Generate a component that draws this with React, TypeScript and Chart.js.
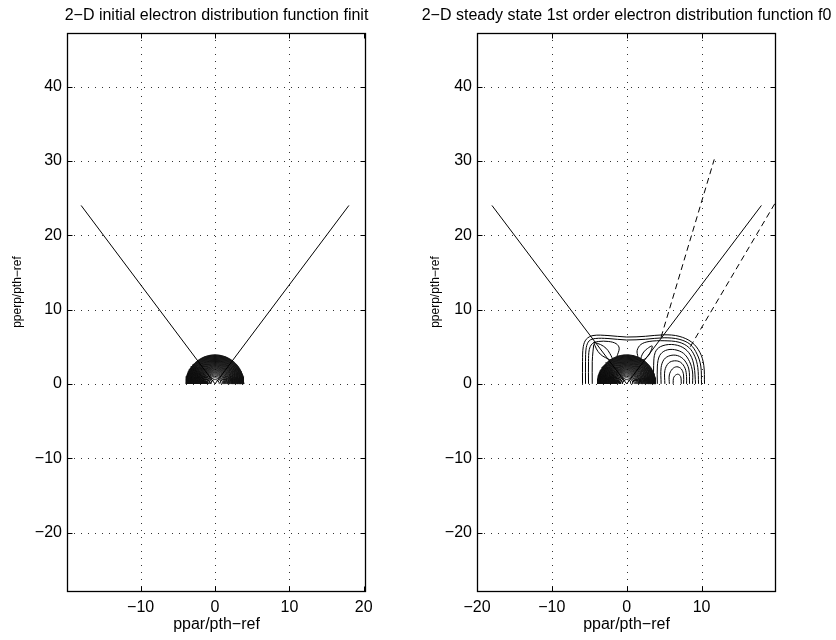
import React, { useEffect, useRef } from 'react';
import { Chart, registerables } from 'chart.js';

Chart.register(...registerables);

const FONT = "'Liberation Sans', Arial, Helvetica, sans-serif";
Chart.defaults.font.family = FONT;
Chart.defaults.color = '#000';

// ---------- text ----------
const leftTitle = '2\u2212D initial electron distribution function finit';
const rightTitle = '2\u2212D steady state 1st order electron distribution function f0';
const xAxisLabel = 'ppar/pth\u2212ref';
const yAxisLabel = 'pperp/pth\u2212ref';

// ---------- axes ----------
const leftXRange = [-19.9, 20.3];
const rightXRange = [-20, 19.95];
const yRange = [-28, 47.2];
const leftXTicks = [-10, 0, 10, 20];
const rightXTicks = [-20, -10, 0, 10];
const yTicks = [-20, -10, 0, 10, 20, 30, 40];

// ---------- data (ppar, pperp) ----------
// resonance cone (solid)
const coneLine: [number, number][] = [[-18, 24], [0, 0], [18, 24]];
// dashed resonance lines (right panel)
const dashedLine1: [number, number][] = [[4.6, 6.3], [11.7, 30.2]];
const dashedLine2: [number, number][] = [[8.5, 5.0], [20.0, 24.6]];

// radii of the Maxwellian contour levels (semicircles)
const contourRadii = [0.581, 0.822, 1.007, 1.163, 1.3, 1.424, 1.538, 1.644, 1.744, 1.838, 1.928, 2.014, 2.096, 2.175, 2.252, 2.325, 2.397, 2.467, 2.534, 2.6, 2.664, 2.727, 2.788, 2.848, 2.907, 2.964, 3.021, 3.076, 3.131, 3.184, 3.237, 3.289, 3.34, 3.39, 3.439, 3.488, 3.536, 3.584, 3.631, 3.677, 3.723, 3.768, 3.812, 3.856, 3.9];

// f0 contour paths
const f0ContourA: [number, number][] = [[-5.9, 0], [-5.9, 3], [-5.8, 5.0], [-5.4, 6.0], [-4.5, 6.5], [-2.5, 6.5], [0, 6.3], [2.5, 6.4], [5, 6.6], [7, 6.4], [8.7, 5.6], [9.8, 4.2], [10.3, 2.5], [10.4, 0]];
const f0ContourB: [number, number][] = [[-5.5, 0], [-5.5, 3], [-5.4, 4.9], [-5.0, 5.8], [-4.2, 6.1], [-2.5, 6.1], [0, 5.9], [2.5, 6.0], [5, 6.2], [7, 6.0], [8.5, 5.3], [9.4, 4.0], [9.9, 2.4], [10.0, 0]];
const f0ContourCLeft: [number, number][] = [[-5.1, 0], [-5.1, 3], [-5.0, 4.6], [-4.6, 5.4], [-3.8, 5.7], [-2.4, 5.7], [-1.4, 5.4], [-1.0, 4.8], [-1.3, 3.7]];
const f0ContourCRight: [number, number][] = [[1.5, 3.6], [1.4, 4.5], [1.9, 5.3], [3, 5.7], [5, 5.8], [7, 5.6], [8.3, 4.9], [9.1, 3.7], [9.5, 2.2], [9.6, 0]];
const f0ContourLeftInner: [number, number][] = [[-4.6, 0], [-4.6, 3], [-4.5, 4.4], [-4.4, 5.3]];
const f0ContourD: [number, number][] = [[3.6, 0], [3.6, 2.5], [3.8, 4.2], [4.5, 5.0], [6, 5.3], [7.5, 4.9], [8.5, 3.9], [9.0, 2.4], [9.2, 0]];
const f0ContourE: [number, number][] = [[4.1, 0], [4.1, 2.4], [4.4, 3.8], [5.2, 4.5], [6.4, 4.6], [7.6, 4.1], [8.4, 3.0], [8.8, 1.6], [8.8, 0]];
const f0ContourF: [number, number][] = [[4.6, 0], [4.6, 2.2], [5.0, 3.3], [5.8, 3.8], [6.8, 3.8], [7.7, 3.2], [8.3, 2.0], [8.4, 0]];
const f0ContourG: [number, number][] = [[5.1, 0], [5.1, 1.8], [5.6, 2.8], [6.4, 3.1], [7.2, 2.9], [7.8, 2.1], [8.0, 1.0], [8.0, 0]];
const f0ContourH: [number, number][] = [[5.7, 0], [5.7, 1.2], [6.1, 2.0], [6.7, 2.3], [7.3, 2.0], [7.6, 1.2], [7.6, 0]];
const f0ContourI: [number, number][] = [[6.2, 0], [6.3, 0.9], [6.8, 1.3], [7.2, 1.0], [7.3, 0]];
const f0EyeLeft: [number, number][] = [[-4.4, 5.6], [-3.5, 5.29], [-2.77, 4.8], [-2.25, 4.09], [-1.9, 3.2], [-2.8, 3.51], [-3.53, 4.0], [-4.05, 4.71], [-4.4, 5.6]];
const f0EyeRight: [number, number][] = [[1.8, 3.0], [1.97, 3.7], [2.28, 4.29], [2.77, 4.75], [3.4, 5.1], [3.23, 4.4], [2.92, 3.81], [2.43, 3.35], [1.8, 3.0]];

// ---------- helpers ----------
const fmt = (v: number) => (v < 0 ? '\u2212' + Math.abs(v) : String(v));

const semicircle = (r: number) =>
  Array.from({ length: 73 }, (_, i) => {
    const a = (Math.PI * i) / 72;
    return { x: r * Math.cos(a), y: r * Math.sin(a) };
  });

const lineSet = (pts: [number, number][], extra: any = {}) => ({
  data: pts.map(([x, y]) => ({ x, y })),
  showLine: true,
  pointRadius: 0,
  borderColor: '#000',
  borderWidth: 1,
  fill: false,
  tension: 0,
  ...extra,
});

const contourSets = (radii: number[]) =>
  radii.map((r) => ({
    data: semicircle(r),
    showLine: true,
    pointRadius: 0,
    borderColor: '#111',
    borderWidth: 1,
    fill: false,
    tension: 0,
  }));

const matlabFrame = {
  id: 'matlabFrame',
  beforeDatasetsDraw(chart: any) {
    const { ctx, chartArea: a, scales } = chart;
    const x = scales.x;
    const y = scales.y;
    ctx.save();
    ctx.strokeStyle = '#333';
    ctx.lineWidth = 1;
    ctx.setLineDash([1, 6]);
    for (const t of x.ticks) {
      const px = Math.round(x.getPixelForValue(t.value)) + 0.5;
      if (px < a.left + 2 || px > a.right - 2) continue;
      ctx.beginPath();
      ctx.moveTo(px, a.top);
      ctx.lineTo(px, a.bottom);
      ctx.stroke();
    }
    for (const t of y.ticks) {
      const py = Math.round(y.getPixelForValue(t.value)) + 0.5;
      if (py < a.top + 2 || py > a.bottom - 2) continue;
      ctx.beginPath();
      ctx.moveTo(a.left, py);
      ctx.lineTo(a.right, py);
      ctx.stroke();
    }
    ctx.restore();
  },
  afterDatasetsDraw(chart: any) {
    const { ctx, chartArea: a, scales } = chart;
    const x = scales.x;
    const y = scales.y;
    ctx.save();
    ctx.strokeStyle = '#000';
    ctx.lineWidth = 1.3;
    ctx.setLineDash([]);
    const L = Math.round(a.left) + 0.5;
    const R = Math.round(a.right) - 0.5;
    const T = Math.round(a.top) + 0.5;
    const B = Math.round(a.bottom) - 0.5;
    ctx.strokeRect(L, T, R - L, B - T);
    const tl = 5;
    ctx.lineWidth = 1;
    ctx.beginPath();
    for (const t of x.ticks) {
      const px = Math.round(x.getPixelForValue(t.value)) + 0.5;
      ctx.moveTo(px, B);
      ctx.lineTo(px, B - tl);
      ctx.moveTo(px, T);
      ctx.lineTo(px, T + tl);
    }
    for (const t of y.ticks) {
      const py = Math.round(y.getPixelForValue(t.value)) + 0.5;
      ctx.moveTo(L, py);
      ctx.lineTo(L + tl, py);
      ctx.moveTo(R, py);
      ctx.lineTo(R - tl, py);
    }
    ctx.stroke();
    ctx.restore();
  },
  afterDraw(chart: any) {
    // rotated y-axis label, placed like the original figure
    const { ctx } = chart;
    ctx.save();
    ctx.translate(18, 292);
    ctx.rotate(-Math.PI / 2);
    ctx.font = `12px ${FONT}`;
    ctx.fillStyle = '#000';
    ctx.textAlign = 'center';
    ctx.textBaseline = 'middle';
    ctx.fillText(yAxisLabel, 0, 0);
    ctx.restore();
  },
};

type SubplotProps = {
  left: number;
  width: number;
  axisWidth: number;
  title: string;
  xRange: number[];
  xTicks: number[];
  datasets: any[];
};

function Subplot({ left, width, axisWidth, title, xRange, xTicks, datasets }: SubplotProps) {
  const ref = useRef<HTMLCanvasElement>(null);
  useEffect(() => {
    if (!ref.current) return;
    const chart = new Chart(ref.current, {
      type: 'scatter',
      data: { datasets },
      options: {
        responsive: false,
        animation: false,
        events: [],
        layout: { padding: 0 },
        plugins: {
          legend: { display: false },
          tooltip: { enabled: false },
          title: {
            display: true,
            text: title,
            color: '#000',
            font: { size: 16, weight: 'normal', lineHeight: 1.25, family: FONT },
            padding: { top: 6, bottom: 7 },
          },
        },
        scales: {
          x: {
            type: 'linear',
            position: 'bottom',
            min: xRange[0],
            max: xRange[1],
            afterBuildTicks: (s: any) => {
              s.ticks = xTicks.map((v) => ({ value: v }));
            },
            afterFit: (s: any) => {
              s.height = 48;
            },
            grid: { display: false, drawTicks: false },
            border: { display: false },
            ticks: {
              padding: 6,
              color: '#000',
              font: { size: 16, family: FONT },
              maxRotation: 0,
              autoSkip: false,
              callback: (v: any) => fmt(Number(v)),
            },
            title: {
              display: true,
              text: xAxisLabel,
              color: '#000',
              font: { size: 16, family: FONT },
              padding: { top: 0, bottom: 6 },
            },
          },
          y: {
            type: 'linear',
            position: 'left',
            min: yRange[0],
            max: yRange[1],
            afterBuildTicks: (s: any) => {
              s.ticks = yTicks.map((v) => ({ value: v }));
            },
            afterFit: (s: any) => {
              s.width = axisWidth;
            },
            grid: { display: false, drawTicks: false },
            border: { display: false },
            ticks: {
              padding: 5,
              color: '#000',
              font: { size: 16, family: FONT },
              autoSkip: false,
              callback: (v: any) => fmt(Number(v)),
            },
            title: { display: false },
          },
          yPad: {
            type: 'linear',
            position: 'right',
            afterFit: (s: any) => {
              s.width = axisWidth;
            },
            grid: { display: false, drawTicks: false },
            border: { display: false },
            ticks: { display: false },
          },
        },
      } as any,
      plugins: [matlabFrame],
    });
    return () => chart.destroy();
  }, []);
  return (
    <canvas
      ref={ref}
      width={width}
      height={640}
      style={{ position: 'absolute', left, top: 0, width, height: 640, display: 'block' }}
    />
  );
}

const leftDatasets = [
  lineSet(coneLine),
  ...contourSets(contourRadii),
];

const smooth = { tension: 0.35 };
const rightDatasets = [
  lineSet(coneLine),
  lineSet(dashedLine1, { borderDash: [6, 4] }),
  lineSet(dashedLine2, { borderDash: [6, 4] }),
  ...contourSets(contourRadii),
  lineSet(f0ContourA, smooth),
  lineSet(f0ContourB, smooth),
  lineSet(f0ContourCLeft, smooth),
  lineSet(f0ContourCRight, smooth),
  lineSet(f0ContourLeftInner, smooth),
  lineSet(f0ContourD, smooth),
  lineSet(f0ContourE, smooth),
  lineSet(f0ContourF, smooth),
  lineSet(f0ContourG, smooth),
  lineSet(f0ContourH, smooth),
  lineSet(f0ContourI, smooth),
  lineSet(f0EyeLeft, smooth),
  lineSet(f0EyeRight, smooth),
];

export default function App() {
  return (
    <div style={{ position: 'absolute', left: 0, top: 0, width: 836, height: 640, background: '#fff' }}>
      <Subplot left={0} width={433} axisWidth={67} title={leftTitle} xRange={leftXRange} xTicks={leftXTicks} datasets={leftDatasets} />
      <Subplot left={418} width={417} axisWidth={59} title={rightTitle} xRange={rightXRange} xTicks={rightXTicks} datasets={rightDatasets} />
    </div>
  );
}
